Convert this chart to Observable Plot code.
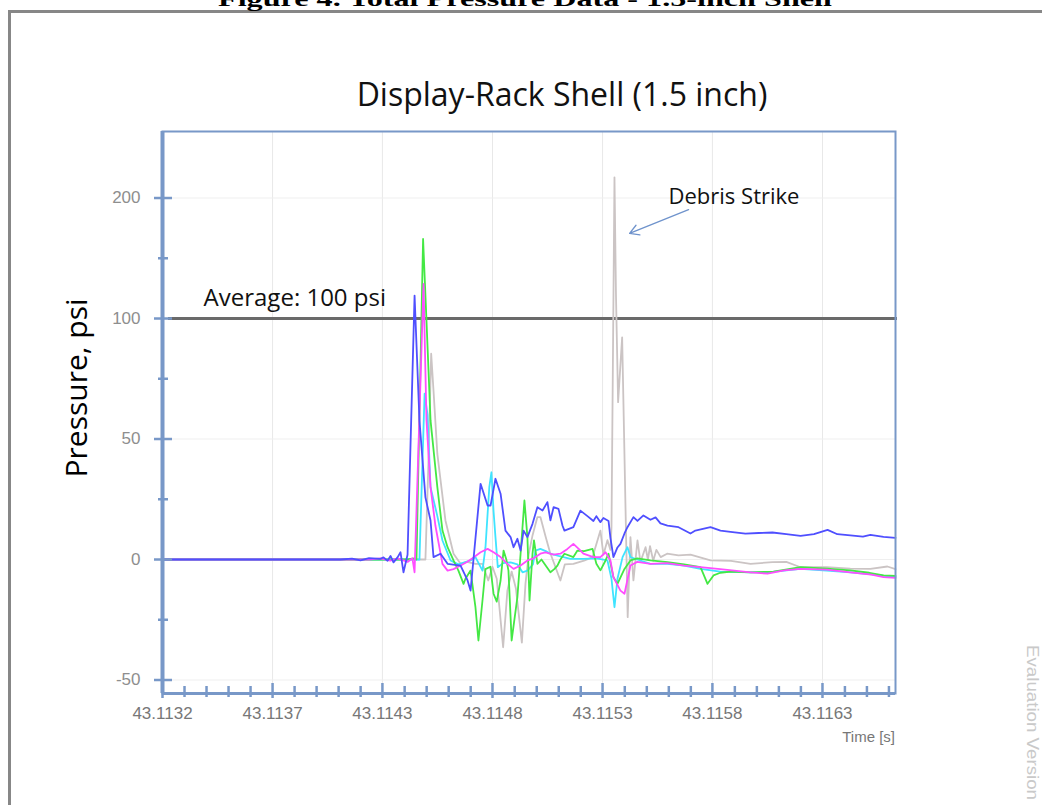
<!DOCTYPE html>
<html><head><meta charset="utf-8">
<script src="https://cdn.jsdelivr.net/npm/d3@7"></script>
<script src="https://cdn.jsdelivr.net/npm/@observablehq/plot@0.6"></script>
<style>
html,body{margin:0;padding:0;background:#fff;}
#chart{position:relative;width:1042px;height:805px;overflow:hidden;}
</style></head><body><div id="chart"></div>
<script>
// time origin (s); series times are in ms after T0
const T0 = 43.113;

// x ticks (s) and their labels
const xTicks = [43.11323, 43.113747, 43.114263, 43.11478, 43.115297, 43.115813, 43.11633];
const xTickLabels = ["43.1132", "43.1137", "43.1143", "43.1148", "43.1153", "43.1158", "43.1163"];
const xDomain = [43.11323, 43.116673];

// y ticks (psi) and their labels as printed on the chart
const yTicks = [-50, 0, 50, 100, 150];
const yTickLabels = ["-50", "0", "50", "100", "200"];
const yMinorTicks = [-25, 25, 75, 125];
const yDomain = [-55.6, 177.6];

const averagePsi = 100;

// series: [ms after T0, pressure psi]
const blue = [[0.230,0],[1.066,0],[1.120,0.4],[1.160,-0.4],[1.200,0.6],[1.254,0.3],[1.268,0.9],[1.287,-0.5],[1.301,1.5],[1.315,-1.2],[1.334,0.9],[1.348,3.0],[1.362,-5.3],[1.381,2.0],[1.414,109.5],[1.437,57.7],[1.465,25.8],[1.489,16.2],[1.503,1.0],[1.536,2.4],[1.569,-1.8],[1.630,-2.5],[1.663,-8.7],[1.677,-12.9],[1.724,31.4],[1.757,22.4],[1.771,22.4],[1.794,33.5],[1.818,27.3],[1.841,12.0],[1.865,9.3],[1.879,5.1],[1.897,8.6],[1.912,3.7],[1.926,12.0],[1.944,9.3],[1.968,14.8],[1.991,21.7],[2.015,20.3],[2.038,23.8],[2.052,16.2],[2.067,21.7],[2.090,21.0],[2.109,14.0],[2.118,12.0],[2.160,13.4],[2.193,20.3],[2.226,18.0],[2.254,16.0],[2.268,18.0],[2.287,15.5],[2.301,17.2],[2.325,16.0],[2.334,9.0],[2.348,1.0],[2.367,5.0],[2.381,6.5],[2.400,10.8],[2.414,13.4],[2.442,17.6],[2.461,16.0],[2.489,18.3],[2.522,16.5],[2.546,17.5],[2.569,15.0],[2.602,14.1],[2.654,13.4],[2.710,10.8],[2.733,12.0],[2.804,13.4],[2.851,12.0],[2.898,11.5],[2.968,10.7],[3.030,11.0],[3.095,11.2],[3.160,10.5],[3.227,9.8],[3.290,10.5],[3.354,12.3],[3.400,10.5],[3.461,10.0],[3.520,9.5],[3.555,10.2],[3.617,9.4],[3.673,9.0]];

const magenta = [[0.230,0],[1.200,0],[1.254,0.5],[1.300,-0.5],[1.334,0.5],[1.381,-1.0],[1.404,0.5],[1.414,-5.3],[1.430,40],[1.456,114.4],[1.470,57.7],[1.489,30],[1.512,14],[1.545,-1.8],[1.569,-4.6],[1.597,-4.0],[1.630,-2.5],[1.660,-1.0],[1.686,0.5],[1.724,3.0],[1.757,4.4],[1.785,3.0],[1.818,1.0],[1.850,-1.8],[1.879,-3.9],[1.912,-2.5],[1.944,-0.4],[1.973,0.5],[2.005,2.4],[2.029,3.0],[2.067,2.0],[2.099,2.4],[2.132,4.4],[2.160,6.5],[2.190,4.0],[2.207,2.4],[2.254,1.0],[2.287,1.0],[2.311,3.0],[2.334,-0.4],[2.348,-7.3],[2.381,-12.9],[2.400,-14.2],[2.428,-2.5],[2.460,-1.0],[2.522,-1.8],[2.600,-1.5],[2.680,-2.5],[2.757,-3.2],[2.850,-4.0],[2.992,-5.3],[3.072,-5.9],[3.150,-4.5],[3.227,-3.9],[3.350,-4.2],[3.461,-5.3],[3.560,-6.3],[3.617,-7.3],[3.673,-7.6]];

const green = [[0.230,0],[1.380,0],[1.414,0.5],[1.423,0],[1.454,133],[1.470,99],[1.489,57.7],[1.521,30],[1.545,12],[1.569,5.1],[1.597,-0.4],[1.620,-4.6],[1.644,-10.1],[1.653,-8],[1.677,-4.6],[1.700,-19.8],[1.714,-33.6],[1.733,-17],[1.747,-4],[1.770,-3],[1.785,-14.2],[1.800,-17.5],[1.818,-8.7],[1.832,3.7],[1.845,0],[1.855,-4.6],[1.870,-33.6],[1.897,-15.6],[1.912,2.4],[1.930,24.5],[1.944,9.3],[1.954,-17],[1.968,2.4],[1.975,7.9],[1.991,-1.8],[2.010,0],[2.052,-5.3],[2.070,-4],[2.085,-2.5],[2.099,0],[2.118,2.4],[2.160,1.0],[2.179,3.7],[2.210,3.5],[2.250,4.4],[2.268,-1.8],[2.287,-4.5],[2.311,-0.4],[2.325,2.4],[2.348,-7.3],[2.367,-10.1],[2.400,-3.9],[2.428,-0.4],[2.460,0.5],[2.522,-0.4],[2.602,-1.1],[2.680,-2.0],[2.757,-3.2],[2.790,-10.1],[2.818,-6.6],[2.850,-5.5],[2.900,-5.0],[2.992,-5.3],[3.100,-5.0],[3.227,-3.2],[3.350,-3.8],[3.461,-4.5],[3.550,-5.5],[3.617,-6.6],[3.673,-6.8]];

const cyan = [[0.230,0],[1.400,0],[1.437,0],[1.461,68.8],[1.475,60],[1.489,30],[1.521,18],[1.545,7.9],[1.583,-0.4],[1.620,-2.0],[1.677,-0.4],[1.700,1.0],[1.733,-4.6],[1.747,5.0],[1.765,30],[1.775,36.2],[1.785,20],[1.794,9.3],[1.805,-3.2],[1.830,-1.5],[1.865,-1.2],[1.897,-2.0],[1.921,-5.3],[1.944,-4.6],[1.970,-2.0],[1.982,3.7],[2.005,4.4],[2.030,3.5],[2.052,2.4],[2.090,1.5],[2.146,0.3],[2.207,0.3],[2.268,0.5],[2.320,-0.4],[2.339,-8],[2.353,-19.8],[2.367,-8],[2.391,1.0],[2.414,5.1],[2.428,1.0],[2.460,0],[2.522,-1.8],[2.602,-1.8],[2.680,-2.5],[2.757,-3.9],[2.850,-5.0],[2.992,-5.3],[3.072,-5.3],[3.150,-4.6],[3.227,-3.9],[3.350,-4.6],[3.461,-5.3],[3.560,-6.2],[3.673,-7.3]];

const gray = [[0.230,0],[1.420,0],[1.465,0],[1.479,40],[1.492,85.4],[1.503,70],[1.521,43.8],[1.559,16.2],[1.597,2.4],[1.630,-1.8],[1.660,-1.0],[1.700,-1.8],[1.733,-1.8],[1.760,-8.7],[1.780,-3.0],[1.800,-8.0],[1.830,-36.4],[1.850,-12.9],[1.870,-5.0],[1.890,-12.0],[1.918,-34.5],[1.935,-10.0],[1.950,2.0],[1.968,10.0],[1.991,17.6],[2.005,17.6],[2.030,9.3],[2.050,3.0],[2.076,-3.2],[2.099,-8.7],[2.120,-2.0],[2.160,-1.8],[2.210,-0.5],[2.250,1.0],[2.287,12.0],[2.301,2.0],[2.320,8.0],[2.334,4.0],[2.339,13.4],[2.353,158.6],[2.360,110],[2.370,65.3],[2.389,92.2],[2.415,-23.9],[2.428,9.3],[2.442,-8.7],[2.461,7.9],[2.475,-1.0],[2.499,5.1],[2.510,0],[2.520,5.5],[2.535,-0.5],[2.550,4.0],[2.570,1.0],[2.600,2.4],[2.654,1.7],[2.710,2.0],[2.804,-0.4],[2.900,-0.6],[2.992,-1.8],[3.095,-1.1],[3.160,-1.0],[3.227,-3.2],[3.350,-3.2],[3.461,-3.8],[3.555,-3.9],[3.635,-2.9],[3.673,-4.0]];

const seriesColors = {gray: "#cbc4c4", cyan: "#3fe4ff", green: "#44e844", magenta: "#ff4dff", blue: "#4f4fff"};

// annotations: [ms after T0, psi]
const annotations = [
  {ms: 0.423, psi: 108.3, label: "Average: 100 psi", size: 24},
  {ms: 2.607, psi: 150.5, label: "Debris Strike", size: 22}
];
const debrisArrow = [{ms1: 2.701, psi1: 145.2, ms2: 2.424, psi2: 135.3}];

const axisColor = "#7898c8";
const toX = ms => T0 + ms / 1000;

// minor x ticks: 5 subdivisions per major interval
const xStep = (xTicks[1] - xTicks[0]) / 5;
const xMinor = [];
for (let v = xTicks[0] + xStep; v <= xDomain[1] + 1e-9; v += xStep) {
  if (!xTicks.some(t => Math.abs(t - v) < xStep / 3)) xMinor.push(v);
}
const xLabelMap = new Map(xTicks.map((t, i) => [t, xTickLabels[i]]));
const yLabelMap = new Map(yTicks.map((t, i) => [t, yTickLabels[i]]));

const lineMark = (data, color) => Plot.line(data, {x: d => toX(d[0]), y: d => d[1], stroke: color, strokeWidth: 1.8});

const chart = Plot.plot({
  width: 1042, height: 805,
  marginLeft: 162, marginRight: 147, marginTop: 131, marginBottom: 112,
  x: {domain: xDomain, label: null},
  y: {domain: yDomain, label: null},
  style: {fontFamily: "'Liberation Sans', Arial, sans-serif", background: "#fff", overflow: "visible"},
  marks: [
    Plot.gridX(xTicks, {stroke: "#e8e8e8", strokeOpacity: 1}),
    Plot.gridY(yTicks, {stroke: "#efefef", strokeOpacity: 1}),
    Plot.ruleY([averagePsi], {stroke: "#6a6a6a", strokeWidth: 3, insetLeft: 6, insetRight: -2}),
    lineMark(gray, seriesColors.gray),
    lineMark(cyan, seriesColors.cyan),
    lineMark(green, seriesColors.green),
    lineMark(magenta, seriesColors.magenta),
    lineMark(blue, seriesColors.blue),
    Plot.frame({stroke: axisColor, strokeWidth: 2}),
    Plot.ruleX([xDomain[0]], {stroke: axisColor, strokeWidth: 4}),
    Plot.ruleY([yDomain[0]], {stroke: axisColor, strokeWidth: 3}),
    Plot.ruleY(yTicks, {x1: xDomain[0], x2: xDomain[0], insetLeft: -8, insetRight: -10, stroke: axisColor, strokeWidth: 2.5}),
    Plot.ruleY(yMinorTicks, {x1: xDomain[0], x2: xDomain[0], insetLeft: -4, insetRight: -6, stroke: axisColor, strokeWidth: 2.5}),
    Plot.ruleX(xTicks, {y1: yDomain[0], y2: yDomain[0], insetTop: -10, insetBottom: -5, stroke: axisColor, strokeWidth: 2.5}),
    Plot.ruleX(xMinor, {y1: yDomain[0], y2: yDomain[0], insetTop: -7, insetBottom: -4, stroke: axisColor, strokeWidth: 2.5}),
    Plot.axisY(yTicks, {tickSize: 0, tickPadding: 22, tickFormat: d => yLabelMap.get(d), fontSize: 17, color: "#8e8e8e", label: null}),
    Plot.axisX(xTicks, {tickSize: 0, tickPadding: 13, tickFormat: d => xLabelMap.get(d), fontSize: 17, color: "#777", label: null}),
    Plot.text(annotations, {x: d => toX(d.ms), y: "psi", text: "label", fontSize: d => d.size, textAnchor: "start", lineAnchor: "middle", fontFamily: "'Open Sans', sans-serif", fill: "#111"}),
    Plot.arrow(debrisArrow, {x1: d => toX(d.ms1), y1: "psi1", x2: d => toX(d.ms2), y2: "psi2", stroke: "#6f93cc", strokeWidth: 1.3, headLength: 12, bend: 0})
  ]
});

const svg = d3.select(chart);
// outer figure border
svg.append("line").attr("x1", 8).attr("x2", 1042).attr("y1", 11.5).attr("y2", 11.5).attr("stroke", "#878787").attr("stroke-width", 3);
svg.append("line").attr("x1", 9.5).attr("x2", 9.5).attr("y1", 10).attr("y2", 805).attr("stroke", "#878787").attr("stroke-width", 3);
// figure caption (cut at the top, as in the source page)
svg.append("text").attr("x", 525).attr("y", 6).attr("text-anchor", "middle")
  .attr("font-family", "'Liberation Serif', 'Times New Roman', serif").attr("font-weight", "bold").attr("font-size", 22)
  .attr("textLength", 614).attr("lengthAdjust", "spacingAndGlyphs").attr("fill", "#000")
  .text("Figure 4. Total Pressure Data - 1.5-inch Shell");
// chart title
svg.append("text").attr("x", 562).attr("y", 106).attr("text-anchor", "middle")
  .attr("font-family", "'Open Sans', sans-serif").attr("font-size", 32).attr("fill", "#111")
  .text("Display-Rack Shell (1.5 inch)");
// y axis title
svg.append("text").attr("transform", "translate(87,388) rotate(-90)").attr("text-anchor", "middle")
  .attr("font-family", "'Open Sans', sans-serif").attr("font-size", 30).attr("fill", "#000")
  .text("Pressure, psi");
// x axis title
svg.append("text").attr("x", 895).attr("y", 742).attr("text-anchor", "end")
  .attr("font-family", "'Liberation Sans', Arial, sans-serif").attr("font-size", 15).attr("fill", "#777")
  .text("Time [s]");
// watermark
svg.append("text").attr("transform", "translate(1027,645) rotate(90)").attr("text-anchor", "start")
  .attr("font-family", "'Liberation Sans', Arial, sans-serif").attr("font-size", 16).attr("fill", "#c9c9c9")
  .attr("textLength", 155).attr("lengthAdjust", "spacingAndGlyphs")
  .text("Evaluation Version");

document.getElementById("chart").appendChild(chart);
</script></body></html>
